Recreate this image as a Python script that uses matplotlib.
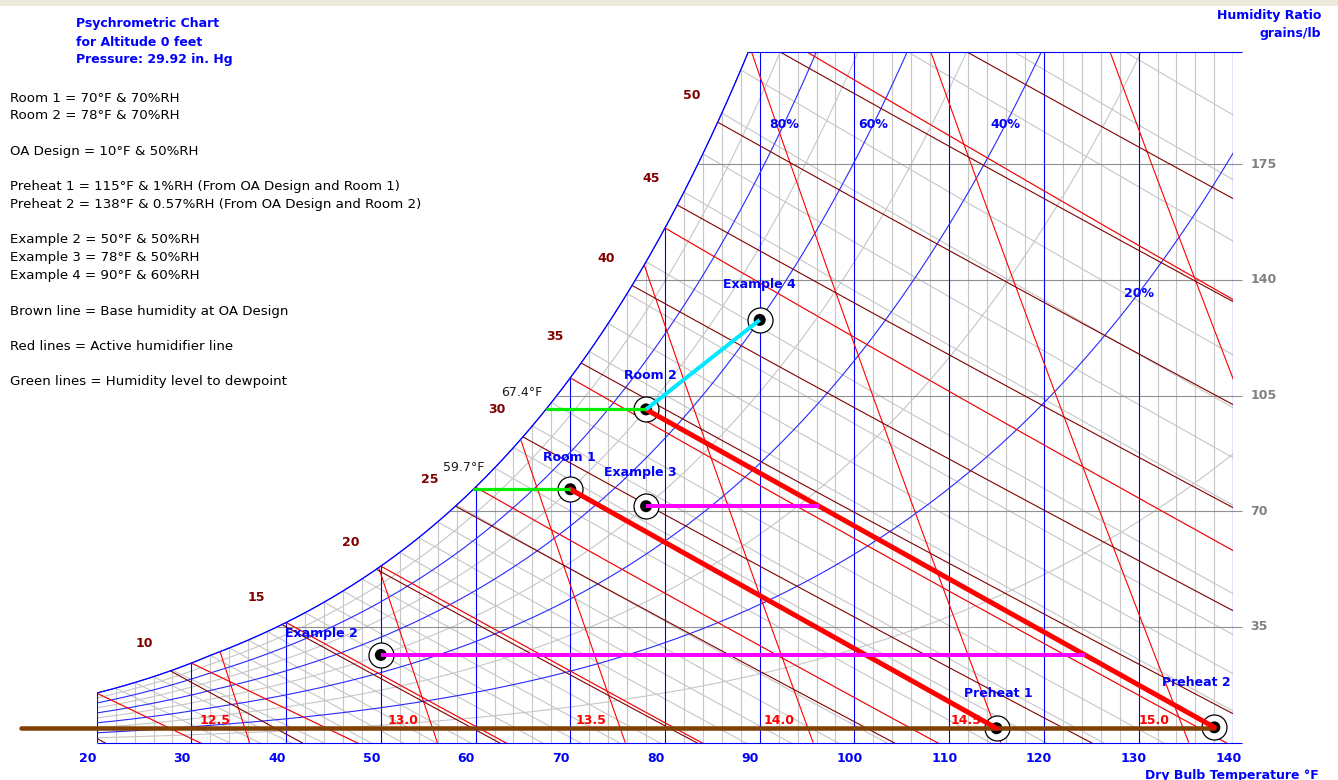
import numpy as np
import matplotlib

matplotlib.use("Agg")
import matplotlib.pyplot as plt
from matplotlib.patches import Rectangle

# ---------------------------------------------------------------- data
PRESSURE_INHG = 29.92
ALTITUDE_FT = 0
GRAINS_PER_LB = 7000.0

T_MIN, T_MAX = 20, 140          # dry bulb range, F
W_TOP = 209                      # humidity ratio at top edge, grains/lb

room_names = ["Room 1", "Room 2"]
room_temp = [70, 78]
room_rh = [70, 70]
room_dewpoint = [59.7, 67.4]

oa_temp = 10
oa_rh = 50

preheat_names = ["Preheat 1", "Preheat 2"]
preheat_temp = [115, 138]
preheat_rh = [1, 0.57]

example_names = ["Example 2", "Example 3", "Example 4"]
example_temp = [50, 78, 90]
example_rh = [50, 50, 60]

base_line_from = 12              # F, left end of the base humidity line

temp_ticks = list(range(20, 141, 10))
temp_minor = list(range(20, 141, 2))
w_ticks = [35, 70, 105, 140, 175]

rh_blue = [100, 80, 60, 40, 20]
rh_gray = [90, 70, 50, 30, 10]
rh_label_values = [80, 60, 40, 20]
rh_label_grains = [187, 187, 187, 136]

enthalpy_values = list(range(5, 65, 5))
enthalpy_labels = [10, 15, 20, 25, 30, 35, 40, 45, 50]

volume_values = [12.5, 13.0, 13.5, 14.0, 14.5, 15.0, 15.5]
volume_labels = [12.5, 13.0, 13.5, 14.0, 14.5, 15.0]

wetbulb_red = list(range(20, 100, 10))
wetbulb_gray = list(range(20, 100, 2))

# ---------------------------------------------------------------- styles
DPI = 100
W_PX, H_PX = 1338, 780
BLUE = "#0000ff"
RH_BLUE = "#2828ff"
LIGHT_GRAY = "#c6c6c6"
MID_GRAY = "#909090"
RED = "#ff0000"
MAROON = "#800000"
BROWN = "#804000"
FONT = "DejaVu Sans"

P_PSIA = PRESSURE_INHG * 0.4911542


def px(n):
    """Pixels to points."""
    return n * 72.0 / DPI


def sat_pressure(t_f):
    """Saturation pressure (psia), Hyland-Wexler over ice below 32F."""
    t = np.asarray(t_f, dtype=float)
    tk = (t - 32.0) / 1.8 + 273.15
    ice = (-5.6745359e3 / tk + 6.3925247 - 9.677843e-3 * tk + 6.2215701e-7 * tk**2
           + 2.0747825e-9 * tk**3 - 9.484024e-13 * tk**4 + 4.1635019 * np.log(tk))
    water = (-5.8002206e3 / tk + 1.3914993 - 4.8640239e-2 * tk + 4.1764768e-5 * tk**2
             - 1.4452093e-8 * tk**3 + 6.5459673 * np.log(tk))
    return np.exp(np.where(t < 32, ice, water)) / 6894.757


def grains(pw):
    return 0.621945 * pw / (P_PSIA - pw) * GRAINS_PER_LB


def rh_grains(t, rh):
    return grains(rh / 100.0 * sat_pressure(t))


def wetbulb_grains(t, twb):
    ws = grains(sat_pressure(twb)) / GRAINS_PER_LB
    if twb >= 32:
        w = ((1093 - 0.556 * twb) * ws - 0.240 * (t - twb)) / (1093 + 0.444 * t - twb)
    else:
        w = ((1220 - 0.04 * twb) * ws - 0.240 * (t - twb)) / (1220 + 0.444 * t - 0.48 * twb)
    return w * GRAINS_PER_LB


def enthalpy_grains(t, h):
    return (h - 0.240 * t) / (1061 + 0.444 * t) * GRAINS_PER_LB


def volume_temp(w_gr, v):
    w = w_gr / GRAINS_PER_LB
    return v * P_PSIA / (0.370486 * (1 + 1.607858 * w)) - 459.67


t_dense = np.linspace(T_MIN, T_MAX, 2401)
sat_dense = rh_grains(t_dense, 100)


def sat_temp_at(w_gr):
    return float(np.interp(w_gr, sat_dense, t_dense))


# ---------------------------------------------------------------- figure
fig = plt.figure(figsize=(W_PX / DPI, H_PX / DPI), dpi=DPI)
fig.patch.set_facecolor("white")
fig.add_artist(Rectangle((0, 1 - 6 / H_PX), 1, 6 / H_PX, transform=fig.transFigure,
                         facecolor="#ece9d8", edgecolor="none"))

x0, x1, y0, y1 = 96.7, 1233.3, 742.7, 51.7
ax = fig.add_axes([x0 / W_PX, 1 - y0 / H_PX, (x1 - x0) / W_PX, (y0 - y1) / H_PX])
ax.set_xlim(T_MIN, T_MAX)
ax.set_ylim(0, W_TOP)
ax.axis("off")

thin = dict(linewidth=0.8, solid_capstyle="butt")

# dry bulb grid, every 2F up to saturation
for t in temp_minor:
    top = min(rh_grains(t, 100), W_TOP)
    colour = BLUE if t in temp_ticks else LIGHT_GRAY
    ax.plot([t, t], [0, top], color=colour, zorder=3 if t in temp_ticks else 1, **thin)

# wet bulb lines
for twb in wetbulb_gray:
    tt = np.linspace(twb, T_MAX, 400)
    ax.plot(tt, wetbulb_grains(tt, twb), color=LIGHT_GRAY, zorder=1, **thin)

# relative humidity curves
for rh in rh_gray:
    ax.plot(t_dense, rh_grains(t_dense, rh), color=LIGHT_GRAY, zorder=1, **thin)

# humidity ratio lines and right-hand scale
x_right = T_MAX + 8.4 / 9.472
for w in w_ticks:
    ax.plot([sat_temp_at(w), x_right], [w, w], color=MID_GRAY, zorder=2, clip_on=False, **thin)
    ax.annotate(f"{w}", xy=(T_MAX, w), xytext=(px(17), 0), textcoords="offset points",
                ha="left", va="center", color="#808080", fontsize=9, fontweight="bold",
                family=FONT, annotation_clip=False)

for rh in rh_blue:
    ax.plot(t_dense, rh_grains(t_dense, rh), color=RH_BLUE, zorder=3, **thin)

for twb in wetbulb_red:
    tt = np.linspace(twb, T_MAX, 400)
    ax.plot(tt, wetbulb_grains(tt, twb), color=RED, zorder=4, **thin)

# specific volume lines
for v in volume_values:
    ww = np.linspace(0, W_TOP + 10, 800)
    tt = volume_temp(ww, v)
    keep = ww <= rh_grains(tt, 100)
    ax.plot(tt[keep], ww[keep], color=RED, zorder=4, **thin)
for v in volume_labels:
    ax.annotate(f"{v:.1f}", xy=(volume_temp(0.0, v), 0), xytext=(px(-34.5), px(22.7)),
                textcoords="offset points", ha="center", va="center", color=RED,
                fontsize=9, fontweight="bold", family=FONT)

# enthalpy lines
t_wide = np.linspace(0, T_MAX, 2801)
sat_wide = rh_grains(t_wide, 100)
enthalpy_sat = {}
for h in enthalpy_values:
    ww = enthalpy_grains(t_wide, h)
    keep = ww <= sat_wide
    i0 = np.argmax(keep)
    enthalpy_sat[h] = (t_wide[i0], ww[i0])
    ax.plot(t_wide[keep], ww[keep], color=MAROON, zorder=5, **thin)
for h in enthalpy_labels:
    ax.annotate(f"{h}", xy=enthalpy_sat[h], xytext=(px(-26), px(27)),
                textcoords="offset points", ha="center", va="center", color=MAROON,
                fontsize=9, fontweight="bold", family=FONT)

# chart border
ax.plot(t_dense, sat_dense, color=BLUE, zorder=6, **thin)
ax.plot([T_MIN, x_right], [0, 0], color=BLUE, zorder=6, clip_on=False, **thin)
ax.plot([sat_temp_at(W_TOP), x_right], [W_TOP, W_TOP], color=BLUE, zorder=6,
        clip_on=False, **thin)
ax.plot([T_MAX, T_MAX], [0, W_TOP], color=BLUE, zorder=6, **thin)

for t in temp_ticks:
    ax.annotate(f"{t}", xy=(t, 0), xytext=(px(-18), px(-15.5)), textcoords="offset points",
                ha="left", va="center", color=BLUE, fontsize=9, fontweight="bold",
                family=FONT, annotation_clip=False)

for rh, wl in zip(rh_label_values, rh_label_grains):
    tl = float(np.interp(wl, rh_grains(t_dense, rh), t_dense))
    ax.text(tl, wl, f"{rh}%", ha="center", va="center", color=BLUE, fontsize=9,
            fontweight="bold", family=FONT, zorder=7)

# ---------------------------------------------------------------- processes
oa_w = rh_grains(oa_temp, oa_rh)
room_w = [float(rh_grains(t, r)) for t, r in zip(room_temp, room_rh)]
pre_w = [float(rh_grains(t, r)) for t, r in zip(preheat_temp, preheat_rh)]
ex_w = [float(rh_grains(t, r)) for t, r in zip(example_temp, example_rh)]

all_t = room_temp + preheat_temp + example_temp
all_w = room_w + pre_w + ex_w
ax.scatter(all_t, all_w, s=px(25) ** 2, facecolor="white", edgecolor="black",
           linewidth=0.9, zorder=8, clip_on=False)
ax.scatter(all_t, all_w, s=px(12) ** 2, facecolor="black", edgecolor="none",
           zorder=8, clip_on=False)

ax.plot([base_line_from, preheat_temp[1]], [oa_w, oa_w], color=BROWN, linewidth=px(4.5),
        solid_capstyle="round", zorder=9, clip_on=False)

for i in range(2):
    ax.plot([room_temp[i], preheat_temp[i]], [room_w[i], pre_w[i]], color=RED,
            linewidth=px(5), solid_capstyle="round", zorder=10)
    ax.plot([room_dewpoint[i], room_temp[i]], [room_w[i], room_w[i]], color="#00ee00",
            linewidth=px(3.2), solid_capstyle="butt", zorder=10)

# examples 2 and 3 run across to the Room 2 humidifier line
slope = (preheat_temp[1] - room_temp[1]) / (pre_w[1] - room_w[1])
for i in range(2):
    t_end = room_temp[1] + (ex_w[i] - room_w[1]) * slope
    ax.plot([example_temp[i], t_end], [ex_w[i], ex_w[i]], color="#ff00ff",
            linewidth=px(4), solid_capstyle="butt", zorder=10)
ax.plot([room_temp[1], example_temp[2]], [room_w[1], ex_w[2]], color="#00e8ff",
        linewidth=px(4), solid_capstyle="butt", zorder=10)

# point labels
label_offsets = {
    "Room 1": (-1, 32), "Room 2": (4, 34),
    "Preheat 1": (2, 35), "Preheat 2": (-18, 45),
    "Example 2": (-59, 21), "Example 3": (-6, 34), "Example 4": (0, 35),
}
for name, t, w in zip(room_names + preheat_names + example_names, all_t, all_w):
    dx, dy = label_offsets[name]
    ax.annotate(name, xy=(t, w), xytext=(px(dx), px(dy)), textcoords="offset points",
                ha="center", va="center", color=BLUE, fontsize=9, fontweight="bold",
                family=FONT, zorder=11)

dew_offsets = [(-9, 22), (-24, 17)]
for dp, w, (dx, dy) in zip(room_dewpoint, room_w, dew_offsets):
    ax.annotate(f"{dp}°F", xy=(dp, w), xytext=(px(dx), px(dy)), textcoords="offset points",
                ha="center", va="center", color="#1a1a1a", fontsize=9, family=FONT, zorder=11)

# ---------------------------------------------------------------- text
def fig_text(x, y, s, size=9, **kw):
    fig.text(x / W_PX, 1 - y / H_PX, s, family=FONT, fontsize=size, va="center", **kw)


header = ["Psychrometric Chart", f"for Altitude {ALTITUDE_FT} feet",
          f"Pressure: {PRESSURE_INHG} in. Hg"]
for i, line in enumerate(header):
    fig_text(76, 24 + 18 * i, line, color=BLUE, fontweight="bold")

notes = [
    f"{room_names[0]} = {room_temp[0]}°F & {room_rh[0]}%RH",
    f"{room_names[1]} = {room_temp[1]}°F & {room_rh[1]}%RH",
    "",
    f"OA Design = {oa_temp}°F & {oa_rh}%RH",
    "",
    f"{preheat_names[0]} = {preheat_temp[0]}°F & {preheat_rh[0]:g}%RH (From OA Design and {room_names[0]})",
    f"{preheat_names[1]} = {preheat_temp[1]}°F & {preheat_rh[1]:g}%RH (From OA Design and {room_names[1]})",
    "",
    f"{example_names[0]} = {example_temp[0]}°F & {example_rh[0]}%RH",
    f"{example_names[1]} = {example_temp[1]}°F & {example_rh[1]}%RH",
    f"{example_names[2]} = {example_temp[2]}°F & {example_rh[2]}%RH",
    "",
    "Brown line = Base humidity at OA Design",
    "",
    "Red lines = Active humidifier line",
    "",
    "Green lines = Humidity level to dewpoint",
]
for i, line in enumerate(notes):
    if line:
        fig_text(10, 98 + 17.75 * i, line, size=9.6, color="#000000")

fig_text(1321, 16, "Humidity Ratio", color=BLUE, fontweight="bold", ha="right")
fig_text(1321, 34, "grains/lb", color=BLUE, fontweight="bold", ha="right")
fig_text(1145, 775, "Dry Bulb Temperature °F", color=BLUE, fontweight="bold", ha="left")

fig.savefig("out.png", dpi=DPI)
